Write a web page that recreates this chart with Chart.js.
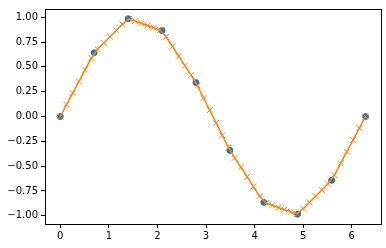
<!DOCTYPE html>
<html><head><meta charset="utf-8">
<script src="https://cdn.jsdelivr.net/npm/chart.js@4/dist/chart.umd.min.js"></script>
<style>html,body{margin:0;padding:0;background:#fff}#wrap{width:386px;height:248px}</style>
</head><body><div id="wrap"><canvas id="c" width="386" height="248"></canvas></div>
<script>
const sampleX = [0, 0.698, 1.396, 2.094, 2.793, 3.491, 4.189, 4.887, 5.585, 6.283];
const sampleY = [0, 0.643, 0.985, 0.866, 0.342, -0.342, -0.866, -0.985, -0.643, 0];
const lineX = [0, 0.128, 0.256, 0.385, 0.513, 0.641, 0.769, 0.898, 1.026, 1.154, 1.282, 1.411, 1.539, 1.667, 1.795, 1.923, 2.052, 2.180, 2.308, 2.436, 2.565, 2.693, 2.821, 2.949, 3.077, 3.206, 3.334, 3.462, 3.590, 3.719, 3.847, 3.975, 4.103, 4.232, 4.360, 4.488, 4.616, 4.744, 4.873, 5.001, 5.129, 5.257, 5.386, 5.514, 5.642, 5.770, 5.899, 6.027, 6.155, 6.283];
const lineY = [0, 0.118, 0.236, 0.354, 0.472, 0.590, 0.678, 0.741, 0.803, 0.866, 0.929, 0.982, 0.961, 0.939, 0.917, 0.895, 0.873, 0.802, 0.706, 0.609, 0.513, 0.417, 0.314, 0.188, 0.063, -0.063, -0.188, -0.314, -0.417, -0.513, -0.609, -0.706, -0.802, -0.873, -0.895, -0.917, -0.939, -0.961, -0.982, -0.929, -0.866, -0.803, -0.741, -0.678, -0.590, -0.472, -0.354, -0.236, -0.118, 0];
const xTicks = [0, 1, 2, 3, 4, 5, 6];
const yTicks = [-1, -0.75, -0.5, -0.25, 0, 0.25, 0.5, 0.75, 1];

const pts = (xs, ys) => xs.map((x, i) => ({x: x, y: ys[i]}));
const frame = {
  id: 'frame',
  afterDraw(chart) {
    const a = chart.chartArea, ctx = chart.ctx;
    ctx.save();
    ctx.strokeStyle = '#000';
    ctx.lineWidth = 1;
    ctx.strokeRect(Math.round(a.left) + 0.5, Math.round(a.top) + 0.5, Math.round(a.right - a.left), Math.round(a.bottom - a.top));
    ctx.restore();
  }
};
const fmt = v => { const s = Math.abs(v).toFixed(2); return v < 0 ? '\u2212' + s : s; };
new Chart(document.getElementById('c'), {
  type: 'scatter',
  data: {
    datasets: [
      {data: pts(sampleX, sampleY), showLine: false, pointRadius: 3, pointBorderWidth: 1,
       backgroundColor: '#1f77b4', borderColor: '#1f77b4', order: 2},
      {data: pts(lineX, lineY), showLine: true, borderColor: '#ff7f0e', borderWidth: 1.5,
       pointStyle: 'crossRot', pointRadius: 4.2, pointBorderWidth: 1, pointBorderColor: '#ff7f0e',
       backgroundColor: '#ff7f0e', order: 1}
    ]
  },
  options: {
    responsive: false, animation: false, events: [],
    layout: {padding: {top: 6, right: 5, left: 0, bottom: 0}},
    plugins: {legend: {display: false}, tooltip: {enabled: false}},
    scales: {
      x: {
        type: 'linear', min: -0.314, max: 6.597,
        afterBuildTicks: s => { s.ticks = xTicks.map(v => ({value: v})); },
        afterFit: s => { s.height = 24; },
        grid: {display: true, drawOnChartArea: false, tickLength: 4, color: '#000', tickWidth: 1},
        border: {display: false},
        ticks: {color: '#000', padding: 2, maxRotation: 0, font: {family: 'DejaVu Sans', size: 10}, callback: v => String(v)}
      },
      y: {
        type: 'linear', min: -1.0834, max: 1.0834,
        afterBuildTicks: s => { s.ticks = yTicks.map(v => ({value: v})); },
        afterFit: s => { s.width = 45; },
        grid: {display: true, drawOnChartArea: false, tickLength: 4, color: '#000', tickWidth: 1},
        border: {display: false},
        ticks: {color: '#000', padding: 3, font: {family: 'DejaVu Sans', size: 10}, callback: v => fmt(v)}
      }
    }
  },
  plugins: [frame]
});
</script></body></html>
